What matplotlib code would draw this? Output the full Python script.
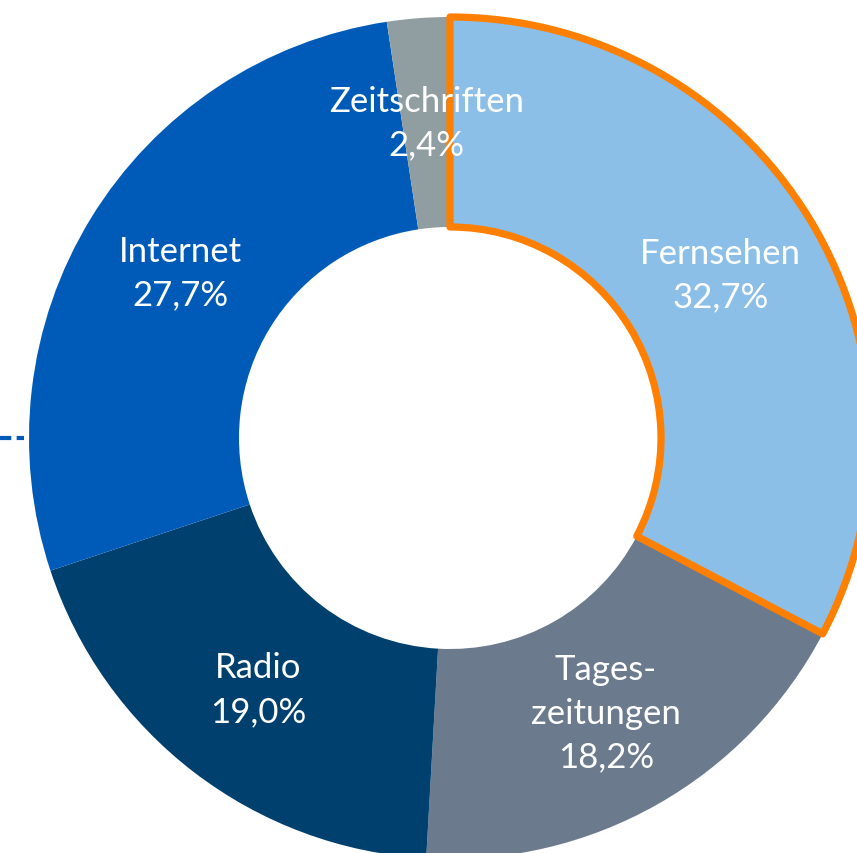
import numpy as np
import matplotlib
matplotlib.use("Agg")
import matplotlib.pyplot as plt

# Data
categories = ["Fernsehen", "Tages-\nzeitungen", "Radio", "Internet", "Zeitschriften"]
values = [32.7, 18.2, 19.0, 27.7, 2.4]
colors = ["#8BBFE8", "#6B7B8D", "#00406E", "#005BB8", "#919EA1"]
highlight_color = "#FF7F00"

W, H = 857, 854
fig = plt.figure(figsize=(W / 100, H / 100), dpi=100)
ax = fig.add_axes([0, 0, 1, 1])

cx, cy = 450, H - 439
R = 421
r_in = 211
width = R - r_in

explode = [0.01, 0, 0, 0, 0]
wedges, _ = ax.pie(values, colors=colors, startangle=90, counterclock=False,
                   radius=R, center=(cx, cy), explode=explode,
                   wedgeprops=dict(width=width, linewidth=0))
wedges[0].set_edgecolor(highlight_color)
wedges[0].set_linewidth(5.2)
wedges[0].set_joinstyle("round")
wedges[0].set_zorder(5)

label_r = (R + r_in) / 2
for w, name, v in zip(wedges, categories, values):
    ang = np.deg2rad((w.theta1 + w.theta2) / 2)
    x = cx + label_r * np.cos(ang)
    y = cy + label_r * np.sin(ang)
    txt = f"{name}\n{v:.1f}%".replace(".", ",")
    ax.text(x, y, txt, ha="center", va="center", color="white",
            fontsize=25, family=["Lato", "DejaVu Sans"], linespacing=1.45, zorder=10)

# dashed connector at left edge
ax.plot([0, cx - R - 5], [cy, cy], color="#005BB8", lw=3, linestyle=(0, (2.7, 1.3)),
        solid_capstyle="butt", dash_capstyle="butt", zorder=1)

ax.set_xlim(0, W)
ax.set_ylim(0, H)
ax.set_aspect("equal")
ax.axis("off")
fig.savefig("out.png", dpi=100)
